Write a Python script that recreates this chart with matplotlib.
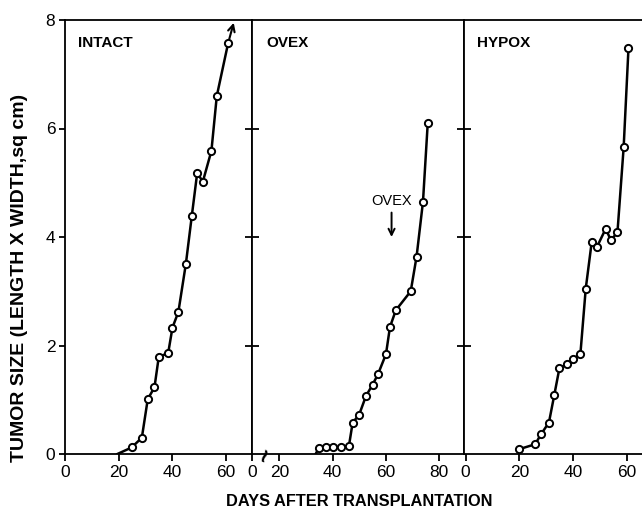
import matplotlib
matplotlib.use("Agg")
from matplotlib import pyplot as plt

# tumor size (length x width, sq cm) vs days after transplantation
intact_day = [19.5, 24.8, 28.6, 30.8, 33.3, 34.9, 38.4, 40.0, 42.2, 45.0, 47.2, 49.2, 51.3, 54.5, 56.5, 60.7]
intact_size = [0, 0.12, 0.30, 1.01, 1.23, 1.79, 1.86, 2.33, 2.62, 3.51, 4.39, 5.18, 5.02, 5.59, 6.60, 7.57]

ovex_day = [33.6, 34.8, 37.5, 40.2, 43.0, 46.1, 47.5, 49.9, 52.5, 55.0, 57.0, 60.0, 61.5, 63.7, 69.3, 71.5, 73.9, 75.7]
ovex_size = [0, 0.11, 0.13, 0.13, 0.13, 0.15, 0.58, 0.72, 1.07, 1.28, 1.47, 1.84, 2.34, 2.65, 3.00, 3.64, 4.65, 6.11]

hypox_day = [20.0, 25.9, 28.0, 31.0, 33.0, 34.9, 37.8, 39.8, 42.7, 44.7, 46.9, 48.8, 52.1, 54.1, 56.5, 58.8, 60.6]
hypox_size = [0.09, 0.18, 0.36, 0.58, 1.09, 1.58, 1.66, 1.75, 1.84, 3.05, 3.90, 3.81, 4.15, 3.94, 4.09, 5.65, 7.48]

ovex_day_marked = 62.1  # time of ovariectomy (arrow)
y_ticks = [0, 2, 4, 6, 8]

plt.rcParams["font.family"] = ["Liberation Sans", "DejaVu Sans"]

W, H = 642, 515
fig = plt.figure(figsize=(W / 100, H / 100), dpi=100)


def px_axes(x0, x1, y0=20, y1=454):
    return fig.add_axes([x0 / W, 1 - y1 / H, (x1 - x0) / W, (y1 - y0) / H])


ax1 = px_axes(65, 252)
ax2 = px_axes(252, 464)
ax3 = px_axes(464, 643)

line_kw = dict(color="black", lw=1.8, marker="o", ms=5.2, mfc="white", mec="black", mew=1.4)

ax1.plot(intact_day, intact_size, markevery=list(range(1, len(intact_day))), **line_kw)
ax2.plot(ovex_day, ovex_size, markevery=list(range(1, len(ovex_day))), **line_kw)
ax3.plot(hypox_day, hypox_size, **line_kw)

# arrow off the top of the intact curve
ax1.annotate("", xy=(intact_day[-1] + 2.1, intact_size[-1] + 0.38),
             xytext=(intact_day[-1], intact_size[-1]),
             arrowprops=dict(arrowstyle="->", color="black", lw=1.5,
                             shrinkA=3, shrinkB=0, mutation_scale=12))

# OVEX marker arrow
ax2.annotate("", xy=(ovex_day_marked, 4.0), xytext=(ovex_day_marked, 4.45),
             arrowprops=dict(arrowstyle="->", color="black", lw=1.4,
                             shrinkA=0, shrinkB=0, mutation_scale=11))
ax2.text(ovex_day_marked, 4.66, "OVEX", ha="center", va="center", fontsize=10.5)

for ax in (ax1, ax2, ax3):
    ax.set_ylim(0, 8)
    for s in ax.spines.values():
        s.set_linewidth(1.3)
    ax.tick_params(axis="x", direction="out", length=5, width=1.3, pad=3, labelsize=12.5)

ax1.set_xlim(0, 69.6)
ax1.set_xticks([0, 20, 40, 60])
ax1.set_yticks(y_ticks)
ax1.tick_params(axis="y", direction="out", length=4, width=1.3, pad=3, labelsize=12.5)

ax2.set_xlim(9.7, 89.3)
ax2.set_xticks([9.7, 20, 40, 60, 80])
ax2.set_xticklabels(["0", "20", "40", "60", "80"])
# axis break mark
ax2.text(14.2, 0, "~", rotation=70, ha="center", va="center", fontsize=14,
         fontweight="bold", family="DejaVu Sans")

ax3.set_xlim(-0.6, 66.0)
ax3.set_xticks([0, 20, 40, 60])
ax3.spines["right"].set_visible(False)

for ax in (ax2, ax3):
    ax.set_yticks(y_ticks[1:-1])
    ax.set_yticklabels([])
    ax.tick_params(axis="y", direction="inout", length=10, width=1.3)

for ax, name in ((ax1, "INTACT"), (ax2, "OVEX"), (ax3, "HYPOX")):
    ax.text(0.07, 0.948, name, transform=ax.transAxes, ha="left", va="center",
            fontsize=11, fontweight="bold")

fig.text(20 / W, 1 - 278 / H, "TUMOR SIZE (LENGTH X WIDTH,sq cm)", rotation=90,
         ha="center", va="center", fontsize=14, fontweight="bold")
fig.text(359 / W, 1 - 501 / H, "DAYS AFTER TRANSPLANTATION",
         ha="center", va="center", fontsize=11.8, fontweight="bold")

fig.savefig("out.png", dpi=100)
